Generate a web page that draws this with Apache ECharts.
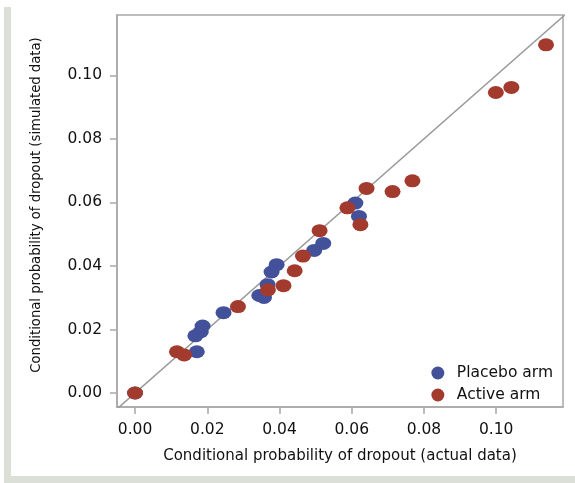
<!DOCTYPE html>
<html>
<head>
<meta charset="utf-8">
<script src="https://cdn.jsdelivr.net/npm/echarts@6/dist/echarts.min.js"></script>
<style>
html,body{margin:0;padding:0;background:#fff;}
#chart{width:575px;height:483px;}
</style>
</head>
<body>
<div id="chart"></div>
<script>
// Data (x = actual, y = simulated)
const placeboX = [0.0, 0.0171, 0.0167, 0.0182, 0.0187, 0.0245, 0.0344, 0.0357, 0.0367, 0.0378, 0.0392, 0.0496, 0.0521, 0.0610, 0.0620];
const placeboY = [0.0, 0.0130, 0.0180, 0.0193, 0.0211, 0.0253, 0.0307, 0.0301, 0.0341, 0.0381, 0.0404, 0.0449, 0.0471, 0.0598, 0.0556];
const activeX = [0.0, 0.0116, 0.0136, 0.0285, 0.0368, 0.0411, 0.0442, 0.0465, 0.0511, 0.0588, 0.0624, 0.0641, 0.0713, 0.0768, 0.0999, 0.1042, 0.1138];
const activeY = [0.0, 0.0130, 0.0120, 0.0272, 0.0325, 0.0338, 0.0385, 0.0431, 0.0511, 0.0583, 0.0530, 0.0644, 0.0634, 0.0668, 0.0946, 0.0962, 0.1096];
const tickValues = [0.00, 0.02, 0.04, 0.06, 0.08, 0.10];
const seriesNames = ['Placebo arm', 'Active arm'];
const xTitle = 'Conditional probability of dropout (actual data)';
const yTitle = 'Conditional probability of dropout (simulated data)';
const xRange = [-0.005, 0.1185];
const yRange = [-0.0044, 0.119];
const identityEnds = [-0.005, 0.12];

const zip = (a, b) => a.map((v, i) => [v, b[i]]);
const font = 'DejaVu Sans';
const gray = '#a8a8a8';

function axis(range, name, gap, nameSize, namePad) {
  return {
    type: 'value', min: range[0], max: range[1],
    name: name, nameLocation: 'middle', nameGap: gap,
    nameTextStyle: { fontFamily: font, fontSize: nameSize, color: '#111', padding: namePad },
    axisLine: { show: true, onZero: false, lineStyle: { color: gray, width: 1.5 } },
    axisTick: { show: true, length: 7, inside: false, customValues: tickValues, lineStyle: { color: gray, width: 1.5 } },
    axisLabel: { customValues: tickValues, margin: 15, fontFamily: font, fontSize: 15.5, color: '#111',
      formatter: v => v.toFixed(2) },
    splitLine: { show: false }
  };
}

const chart = echarts.init(document.getElementById('chart'), null, { renderer: 'canvas' });
chart.setOption({
  animation: false,
  backgroundColor: '#fff',
  graphic: [
    { type: 'rect', left: 4, top: 7, shape: { width: 7, height: 476 }, style: { fill: '#dcdfd8' } },
    { type: 'rect', left: 4, top: 476, shape: { width: 571, height: 7 }, style: { fill: '#dcdfd8' } }
  ],
  grid: { left: 117, right: 12, top: 15, bottom: 76, show: true, borderColor: gray, borderWidth: 1.5 },
  xAxis: axis(xRange, xTitle, 42, 15, 0),
  yAxis: axis(yRange, yTitle, 74, 13.2, [0, 0, 0, 12]),
  legend: {
    right: 17, bottom: 75, orient: 'vertical', itemGap: 6,
    itemWidth: 16, itemHeight: 13, icon: 'circle',
    textStyle: { fontFamily: font, fontSize: 15.5, color: '#111', padding: [0, 0, 0, 6] },
    data: seriesNames
  },
  series: [
    { type: 'line', data: zip(identityEnds, identityEnds), symbol: 'none', silent: true,
      lineStyle: { color: '#999', width: 1.5 }, z: 1 },
    { name: seriesNames[0], type: 'scatter', data: zip(placeboX, placeboY),
      symbol: 'circle', symbolSize: [16, 13], itemStyle: { color: '#42519a', opacity: 1 }, z: 2 },
    { name: seriesNames[1], type: 'scatter', data: zip(activeX, activeY),
      symbol: 'circle', symbolSize: [16, 13], itemStyle: { color: '#a33a2e', opacity: 1 }, z: 3 }
  ]
});
</script>
</body>
</html>
